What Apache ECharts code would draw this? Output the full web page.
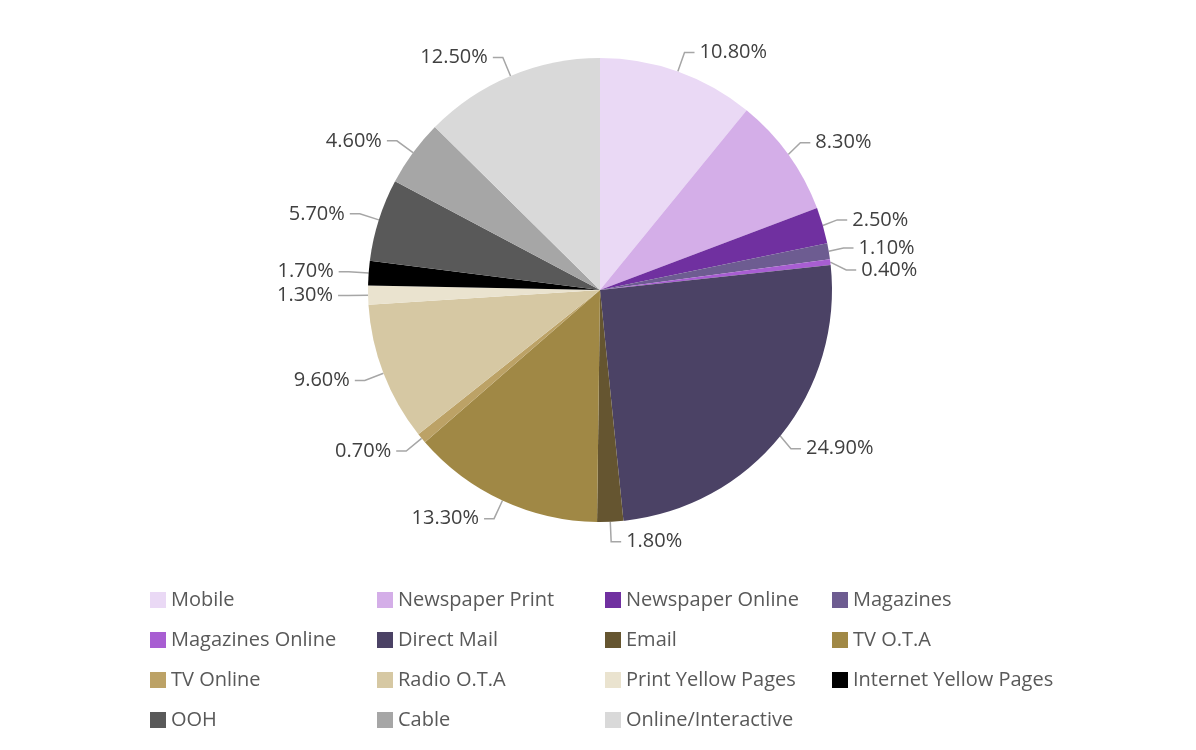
<!DOCTYPE html>
<html>
<head>
<meta charset="utf-8">
<script src="https://cdn.jsdelivr.net/npm/echarts@6/dist/echarts.min.js"></script>
<style>
  html, body { margin: 0; padding: 0; background: #fff; }
  #chart { width: 1196px; height: 750px; }
</style>
</head>
<body>
<div id="chart"></div>
<script>
// 媒体渠道占比
const channels = ['Mobile', 'Newspaper Print', 'Newspaper Online', 'Magazines',
    'Magazines Online', 'Direct Mail', 'Email', 'TV O.T.A',
    'TV Online', 'Radio O.T.A', 'Print Yellow Pages', 'Internet Yellow Pages',
    'OOH', 'Cable', 'Online/Interactive'];
const shares = [10.8, 8.3, 2.5, 1.1, 0.4, 24.9, 1.8, 13.3, 0.7, 9.6, 1.3, 1.7, 5.7, 4.6, 12.5];
const palette = ['#EAD9F5', '#D4AEE8', '#7030A0', '#6D5C91',
    '#A85ED2', '#4B4265', '#655530', '#A08845',
    '#BCA266', '#D6C8A3', '#EAE3CF', '#000000',
    '#595959', '#A6A6A6', '#D9D9D9'];

document.addEventListener('DOMContentLoaded', () => {
    const chart = echarts.init(document.getElementById('chart'));

    // 图例分四列
    const colX = [150, 377, 605, 832];
    const legends = colX.map((x, c) => ({
        orient: 'vertical',
        left: x,
        top: 590,
        padding: 0,
        itemWidth: 16,
        itemHeight: 16,
        itemGap: 20,
        icon: 'rect',
        selectedMode: false,
        data: channels.filter((_, i) => i % 4 === c),
        textStyle: { fontFamily: 'Open Sans', fontSize: 20, color: '#595959', lineHeight: 20 }
    }));

    chart.setOption({
        animation: false,
        color: palette,
        legend: legends,
        series: [{
            type: 'pie',
            center: [600, 290],
            radius: 232,
            startAngle: 90,
            clockwise: true,
            avoidLabelOverlap: true,
            data: channels.map((n, i) => ({ name: n, value: shares[i] })),
            label: {
                show: true,
                position: 'outside',
                formatter: p => p.value.toFixed(2) + '%',
                fontFamily: 'Open Sans',
                fontSize: 20,
                color: '#404040'
            },
            labelLine: {
                show: true,
                length: 20,
                length2: 10,
                lineStyle: { color: '#A6A6A6', width: 1.5 }
            },
            emphasis: { disabled: true }
        }]
    });

    window.addEventListener('resize', () => chart.resize());
});
</script>
</body>
</html>
